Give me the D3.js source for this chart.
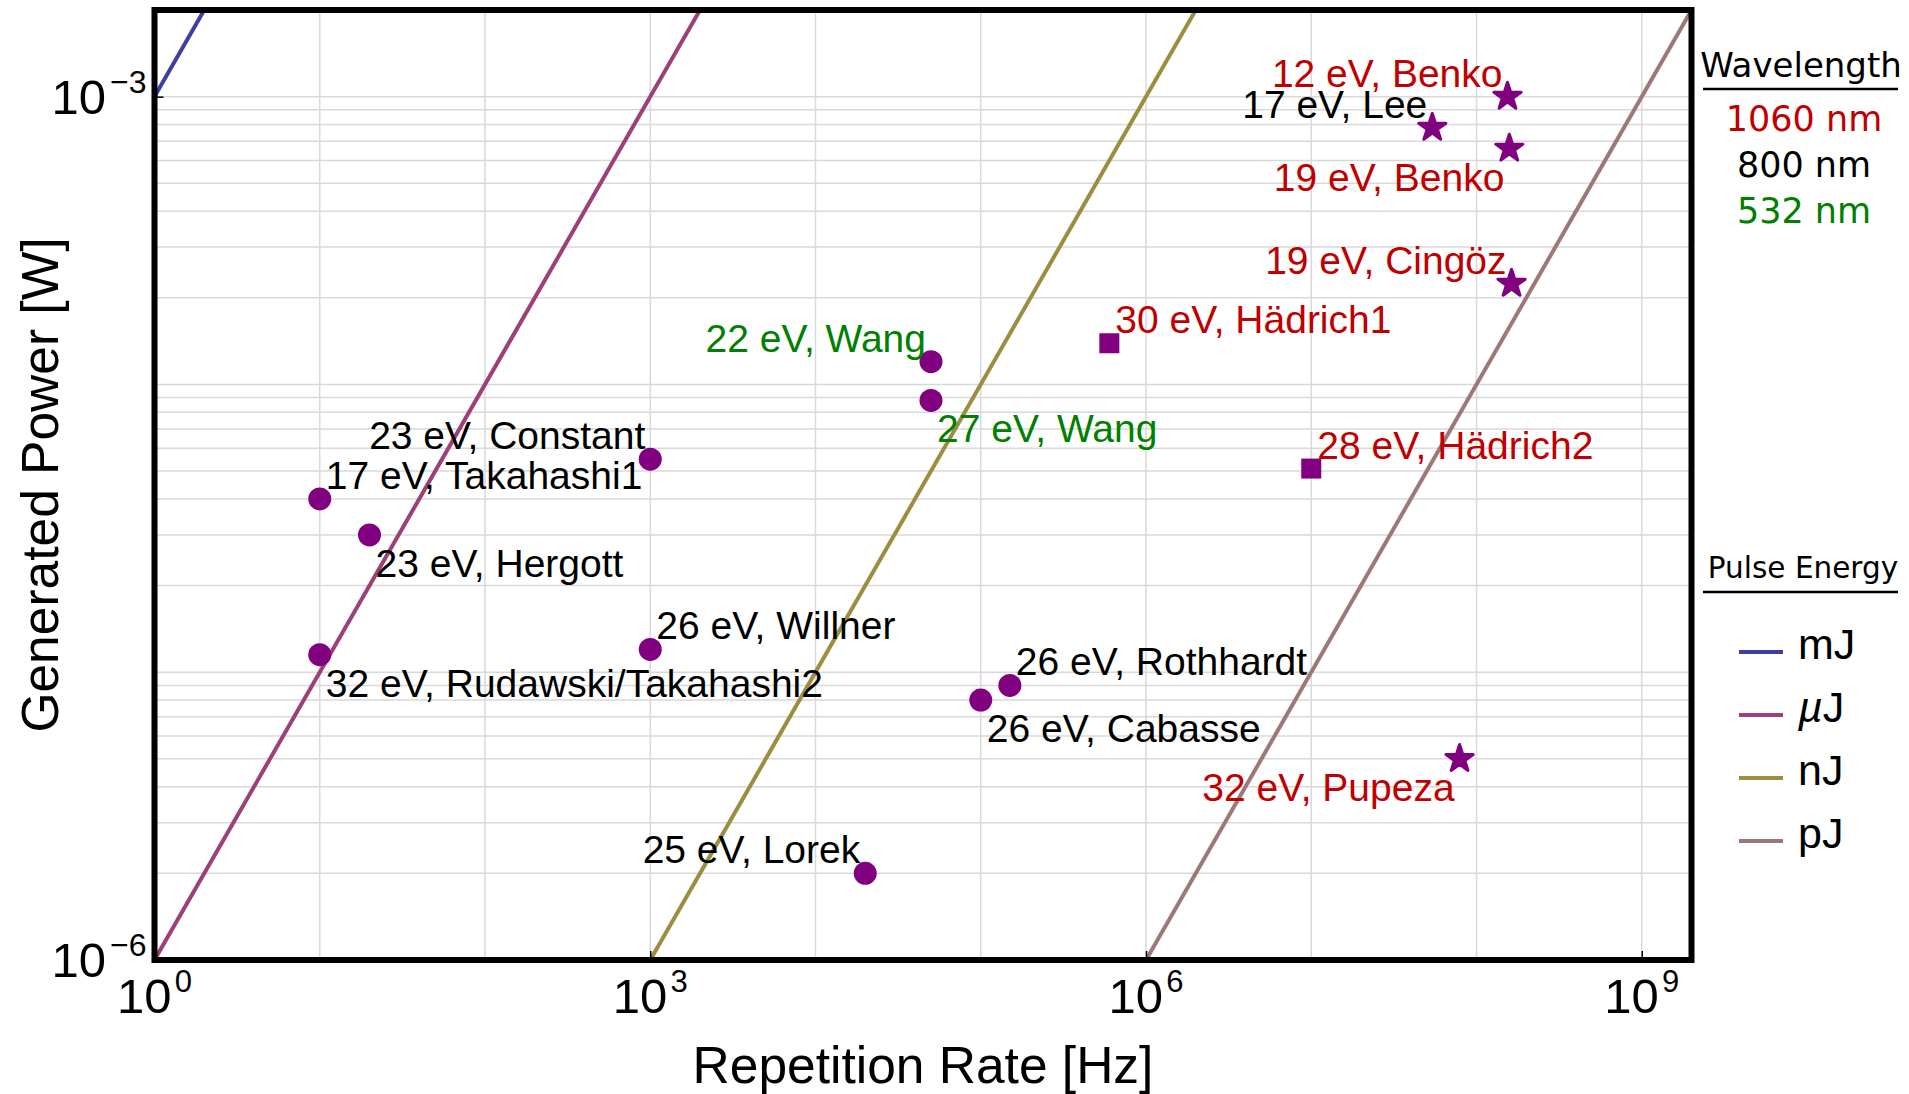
<!DOCTYPE html>
<html>
<head>
<meta charset="utf-8">
<script src="https://cdn.jsdelivr.net/npm/d3@7"></script>
<style>
  body { margin: 0; background: #fff; }
  svg { display: block; }
</style>
</head>
<body>
<svg id="chart" width="1909" height="1094"></svg>
<script>
// ---- data -------------------------------------------------------------
const sourceLabels = [
  "12 eV, Benko", "17 eV, Lee", "19 eV, Benko", "19 eV, Cingöz",
  "30 eV, Hädrich1", "28 eV, Hädrich2", "22 eV, Wang", "27 eV, Wang",
  "23 eV, Constant", "17 eV, Takahashi1", "23 eV, Hergott",
  "32 eV, Rudawski/Takahashi2", "26 eV, Willner", "26 eV, Rothhardt",
  "26 eV, Cabasse", "32 eV, Pupeza", "25 eV, Lorek"
];
// repetition rate [Hz]
const repRates = [
  1.54e8, 5.4e7, 1.58e8, 1.63e8,
  6.0e5, 1.0e7, 5.0e4, 5.0e4,
  1.0e3, 10, 20,
  10, 1.0e3, 1.5e5,
  1.0e5, 7.9e7, 2.0e4
];
// generated power [W]
const powers = [
  1.0e-3, 7.8e-4, 6.6e-4, 2.24e-4,
  1.39e-4, 5.1e-5, 1.2e-4, 8.8e-5,
  5.5e-5, 4.0e-5, 3.0e-5,
  1.15e-5, 1.2e-5, 9.0e-6,
  8.0e-6, 5.0e-6, 2.0e-6
];
// driving wavelength [nm]
const wavelengths = [
  1060, 800, 1060, 1060,
  1060, 1060, 532, 532,
  800, 800, 800,
  800, 800, 800,
  800, 1060, 800
];
// marker kind per source
const markerKinds = [
  "star", "star", "star", "star",
  "square", "square", "circle", "circle",
  "circle", "circle", "circle",
  "circle", "circle", "circle",
  "circle", "star", "circle"
];
// which side of the marker the label sits on
const labelSides = [
  "nw", "nw", "sw", "nw",
  "ne", "ne", "nw", "se",
  "nw", "ne", "se",
  "se", "ne", "ne",
  "se", "sw", "nw"
];

const energyNames = ["mJ", "µJ", "nJ", "pJ"];
const pulseEnergies = [1e-3, 1e-6, 1e-9, 1e-12];   // J
const wavelengthNames = ["1060 nm", "800 nm", "532 nm"];
const wavelengthValues = [1060, 800, 532];

const xTickValues = [1, 1e3, 1e6, 1e9];
const xTickExponents = ["0", "3", "6", "9"];
const yTickValues = [1e-6, 1e-3];
const yTickExponents = ["\u22126", "\u22123"];

// ---- styling ----------------------------------------------------------
const energyColors = ["#3f3fa0", "#9d3f78", "#9d8d3f", "#9d7878"];
const wavelengthColors = ["#bf0000", "#000000", "#008000"];
const markerColor = "#800080";
const sansFont = "'Liberation Sans', Arial, sans-serif";
const legendFont = "'DejaVu Sans', Verdana, sans-serif";

const plot = { left: 154.5, right: 1691.5, top: 10, bottom: 960 };

const svg = d3.select("#chart");

const x = d3.scaleLog().domain([1, 2e9]).range([plot.left, plot.right]);
const y = d3.scaleLog().domain([1e-6, 2e-3]).range([plot.bottom, plot.top]);

svg.append("defs").append("clipPath").attr("id", "plot-clip")
  .append("rect")
  .attr("x", plot.left).attr("y", plot.top)
  .attr("width", plot.right - plot.left).attr("height", plot.bottom - plot.top);

// ---- grid -------------------------------------------------------------
const grid = svg.append("g").attr("clip-path", "url(#plot-clip)")
  .attr("stroke", "#d9d9d9").attr("stroke-width", 1.5);

const decadeX = d3.range(0, 10).map(k => Math.pow(10, k));
grid.selectAll("line.gx").data(decadeX).join("line")
  .attr("class", "gx")
  .attr("x1", d => x(d)).attr("x2", d => x(d))
  .attr("y1", plot.top).attr("y2", plot.bottom);

grid.selectAll("line.gy").data(y.ticks()).join("line")
  .attr("class", "gy")
  .attr("x1", plot.left).attr("x2", plot.right)
  .attr("y1", d => y(d)).attr("y2", d => y(d));

// ---- constant pulse-energy lines (P = E * f) ---------------------------
const lineGen = d3.line().x(d => x(d[0])).y(d => y(d[1]));
svg.append("g").attr("clip-path", "url(#plot-clip)")
  .selectAll("path").data(pulseEnergies).join("path")
  .attr("d", e => lineGen([[1e-3, e * 1e-3], [1e10, e * 1e10]]))
  .attr("fill", "none")
  .attr("stroke", (e, i) => energyColors[i])
  .attr("stroke-width", 4);

// ---- axes ticks (inward) ----------------------------------------------
const xAxis = svg.append("g")
  .attr("transform", `translate(0,${plot.bottom})`)
  .call(d3.axisBottom(x).tickValues(xTickValues).tickSize(-9).tickFormat(""));
xAxis.select(".domain").remove();
xAxis.selectAll(".tick line").attr("stroke", "#000").attr("stroke-width", 1.5);

const yAxis = svg.append("g")
  .attr("transform", `translate(${plot.left},0)`)
  .call(d3.axisLeft(y).tickValues(yTickValues).tickSize(-9).tickFormat(""));
yAxis.select(".domain").remove();
yAxis.selectAll(".tick line").attr("stroke", "#000").attr("stroke-width", 1.5);

// power-of-ten tick labels
xTickValues.forEach((v, i) => {
  const t = svg.append("text")
    .attr("x", x(v)).attr("y", plot.bottom + 53)
    .attr("text-anchor", "middle")
    .attr("font-family", sansFont).attr("font-size", 49).attr("fill", "#000");
  t.append("tspan").text("10");
  t.append("tspan").attr("dx", 3).attr("dy", -21).attr("font-size", 31).text(xTickExponents[i]);
});
yTickValues.forEach((v, i) => {
  const t = svg.append("text")
    .attr("x", plot.left - 8).attr("y", y(v) + 17)
    .attr("text-anchor", "end")
    .attr("font-family", sansFont).attr("font-size", 49).attr("fill", "#000");
  t.append("tspan").text("10");
  t.append("tspan").attr("dx", 4).attr("dy", -21).attr("font-size", 32).text(yTickExponents[i]);
});

// axis titles
svg.append("text")
  .attr("x", (plot.left + plot.right) / 2).attr("y", 1083)
  .attr("text-anchor", "middle")
  .attr("font-family", sansFont).attr("font-size", 51.5).attr("fill", "#000")
  .text("Repetition Rate [Hz]");
svg.append("text")
  .attr("transform", `translate(58,${(plot.top + plot.bottom) / 2}) rotate(-90)`)
  .attr("text-anchor", "middle")
  .attr("font-family", sansFont).attr("font-size", 51.5).attr("fill", "#000")
  .text("Generated Power [W]");

// ---- markers ----------------------------------------------------------
const points = sourceLabels.map((label, i) => ({
  label, f: repRates[i], p: powers[i], wl: wavelengths[i],
  kind: markerKinds[i], side: labelSides[i]
}));

const symbolFor = {
  circle: d3.symbol(d3.symbolCircle, Math.PI * 11.5 * 11.5),
  square: d3.symbol(d3.symbolSquare, 20 * 20),
  star: d3.symbol(d3.symbolStar, 230)
};

svg.append("g").selectAll("path").data(points).join("path")
  .attr("transform", d => `translate(${x(d.f)},${y(d.p)})`)
  .attr("d", d => symbolFor[d.kind]())
  .attr("fill", markerColor)
  .attr("stroke", d => d.kind === "star" ? markerColor : "none")
  .attr("stroke-width", 3)
  .attr("stroke-linejoin", "round");

// ---- point labels -----------------------------------------------------
const colorOfWavelength = wl => wavelengthColors[wavelengthValues.indexOf(wl)];
svg.append("g").selectAll("text").data(points).join("text")
  .attr("x", d => x(d.f) + (d.side[1] === "e" ? 6 : -5))
  .attr("y", d => y(d.p) + (d.side[0] === "n" ? -10 : 42))
  .attr("text-anchor", d => d.side[1] === "e" ? "start" : "end")
  .attr("font-family", sansFont).attr("font-size", 39)
  .attr("fill", d => colorOfWavelength(d.wl))
  .text(d => d.label);

// ---- frame ------------------------------------------------------------
svg.append("rect")
  .attr("x", plot.left).attr("y", plot.top)
  .attr("width", plot.right - plot.left).attr("height", plot.bottom - plot.top)
  .attr("fill", "none").attr("stroke", "#000").attr("stroke-width", 6);

// ---- legends ----------------------------------------------------------
const legendX = 1801;
svg.append("text")
  .attr("x", legendX).attr("y", 77).attr("text-anchor", "middle")
  .attr("font-family", legendFont).attr("font-size", 34).attr("fill", "#000")
  .text("Wavelength");
svg.append("line")
  .attr("x1", 1703).attr("x2", 1898).attr("y1", 89).attr("y2", 89)
  .attr("stroke", "#000").attr("stroke-width", 2.5);
svg.append("g").selectAll("text").data(wavelengthNames).join("text")
  .attr("x", legendX + 3)
  .attr("y", (d, i) => 131 + i * 46)
  .attr("text-anchor", "middle")
  .attr("font-family", legendFont).attr("font-size", 35)
  .attr("fill", (d, i) => wavelengthColors[i])
  .text(d => d);

svg.append("text")
  .attr("x", 1803).attr("y", 578).attr("text-anchor", "middle")
  .attr("font-family", legendFont).attr("font-size", 29.5).attr("fill", "#000")
  .text("Pulse Energy");
svg.append("line")
  .attr("x1", 1703).attr("x2", 1898).attr("y1", 592).attr("y2", 592)
  .attr("stroke", "#000").attr("stroke-width", 2.5);

const energyLegend = svg.append("g").selectAll("g").data(energyNames).join("g")
  .attr("transform", (d, i) => `translate(0,${652 + i * 63})`);
energyLegend.append("line")
  .attr("x1", 1739).attr("x2", 1783).attr("y1", 0).attr("y2", 0)
  .attr("stroke", (d, i) => energyColors[i]).attr("stroke-width", 4);
energyLegend.append("text")
  .attr("x", 1798).attr("y", 7)
  .attr("font-family", sansFont).attr("font-size", 43).attr("fill", "#000")
  .each(function (d) {
    const t = d3.select(this);
    if (d.startsWith("µ")) {
      t.append("tspan").attr("font-style", "italic").text("µ");
      t.append("tspan").text(d.slice(1));
    } else {
      t.text(d);
    }
  });
</script>
</body>
</html>
